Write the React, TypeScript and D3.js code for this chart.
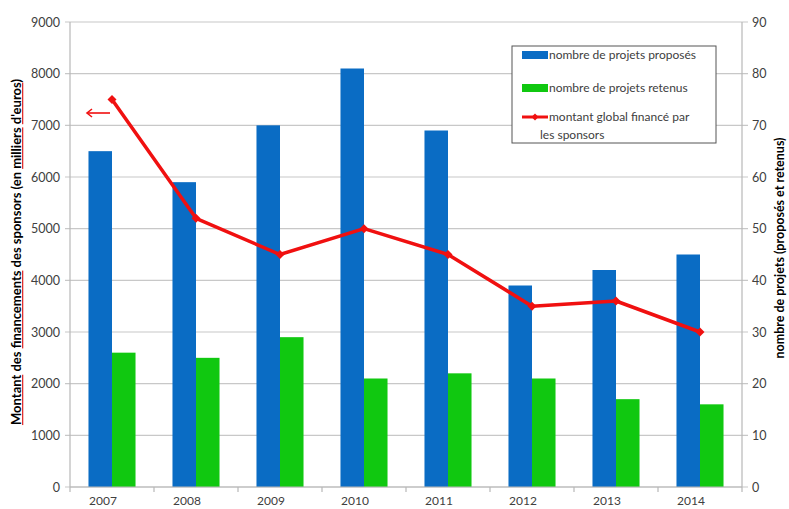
import React from "react";
import * as d3 from "d3";

const years = ["2007", "2008", "2009", "2010", "2011", "2012", "2013", "2014"];
const proposes = [65, 59, 70, 81, 69, 39, 42, 45];
const retenus = [26, 25, 29, 21, 22, 21, 17, 16];
const montant = [7500, 5200, 4500, 5000, 4500, 3500, 3600, 3000];
const leftTicks = [0, 1000, 2000, 3000, 4000, 5000, 6000, 7000, 8000, 9000];
const rightTicks = [0, 10, 20, 30, 40, 50, 60, 70, 80, 90];

const W = 789, H = 509;
const M = { left: 70, right: 742, top: 22, bottom: 487 };
const BLUE = "#0a6cc4";
const GREEN = "#10c810";
const RED = "#f01010";
const FONT = "Lato, 'Open Sans', sans-serif";

function Sq({ children }: { children: React.ReactNode }) {
  return (
    <tspan fill="#e03030" style={{ textDecoration: "underline" }}>
      <tspan fill="transparent">{children}</tspan>
    </tspan>
  );
}

export default function App() {
  const x = d3.scaleBand().domain(years).range([M.left, M.right]);
  const yL = d3.scaleLinear().domain([0, 9000]).range([M.bottom, M.top]);
  const yR = d3.scaleLinear().domain([0, 90]).range([M.bottom, M.top]);
  const bw = x.bandwidth() * 0.28;
  const line = d3
    .line<number>()
    .x((_, i) => (x(years[i]) as number) + x.bandwidth() / 2)
    .y((d) => yL(d));

  const titleProps = {
    transform: `translate(21,252) rotate(-90)`,
    textAnchor: "middle" as const,
    fontSize: 13,
    fontWeight: "bold",
  };

  return (
    <svg width={W} height={H} style={{ position: "absolute", left: 0, top: 0, background: "#fff" }} fontFamily={FONT}>
      {leftTicks.map((t) => (
        <g key={"gl" + t}>
          <line x1={M.left - 5} x2={M.right + 6} y1={yL(t)} y2={yL(t)} stroke="#c8c8c8" strokeWidth={1.2} />
          <text x={60} y={yL(t) + 4.5} textAnchor="end" fontSize={12.5} fill="#404040">{t}</text>
        </g>
      ))}
      {rightTicks.map((t) => (
        <text key={"r" + t} x={752} y={yR(t) + 4.5} textAnchor="start" fontSize={12.5} fill="#404040">{t}</text>
      ))}
      <line x1={M.left} x2={M.left} y1={M.top} y2={M.bottom} stroke="#b8b8b8" strokeWidth={1.2} />
      <line x1={M.right} x2={M.right} y1={M.top} y2={M.bottom} stroke="#b8b8b8" strokeWidth={1.2} />
      {years.map((y, i) => {
        const x0 = x(y) as number;
        const c = x0 + x.bandwidth() / 2;
        return (
          <g key={y}>
            <rect x={c - bw} y={yR(proposes[i])} width={bw} height={M.bottom - yR(proposes[i])} fill={BLUE} />
            <rect x={c} y={yR(retenus[i])} width={bw} height={M.bottom - yR(retenus[i])} fill={GREEN} />
            <text x={c - 9} y={505} textAnchor="middle" fontSize={12} fill="#404040">{y}</text>
          </g>
        );
      })}
      {d3.range(years.length + 1).map((i) => {
        const xx = M.left + i * x.bandwidth();
        return <line key={"xt" + i} x1={xx} x2={xx} y1={M.bottom} y2={M.bottom + 5} stroke="#b8b8b8" strokeWidth={1.2} />;
      })}
      <line x1={M.left} x2={M.right} y1={M.bottom} y2={M.bottom} stroke="#b8b8b8" strokeWidth={1.2} />
      <path d={line(montant) as string} fill="none" stroke={RED} strokeWidth={3.5} strokeLinejoin="round" />
      {montant.map((v, i) => {
        const cx = (x(years[i]) as number) + x.bandwidth() / 2;
        const cy = yL(v);
        return <path key={"m" + i} d={`M${cx},${cy - 4.5}L${cx + 4.5},${cy}L${cx},${cy + 4.5}L${cx - 4.5},${cy}Z`} fill={RED} />;
      })}
      {/* arrow */}
      <line x1={110} x2={88} y1={113} y2={113} stroke={RED} strokeWidth={1.6} />
      <path d="M92,109 L87,113 L92,117" fill="none" stroke={RED} strokeWidth={1.6} />
      {/* legend */}
      <rect x={512} y={46} width={204} height={97} fill="#fff" stroke="#555" strokeWidth={1} />
      <rect x={522} y={51} width={26} height={8} fill={BLUE} />
      <text x={549} y={59} fontSize={12} fill="#404040">nombre de projets proposés</text>
      <rect x={522} y={84} width={26} height={8} fill={GREEN} />
      <text x={549} y={92} fontSize={12} fill="#404040">nombre de projets retenus</text>
      <line x1={522} x2={548} y1={117} y2={117} stroke={RED} strokeWidth={3} />
      <path d="M535,113.5 L538.5,117 L535,120.5 L531.5,117 Z" fill={RED} />
      <text x={549} y={121} fontSize={12} fill="#404040">montant global financé par</text>
      <text x={540} y={139} fontSize={12} fill="#404040">les sponsors</text>
      {/* axis titles */}
      <text {...titleProps} fill="#000">
        Montant des financements des sponsors (en milliers d'euros)
      </text>
      <text {...titleProps} fill="transparent">
        <Sq>Montant</Sq> des <Sq>financements</Sq> des sponsors (en <Sq>milliers</Sq> <Sq>d'euros</Sq>)
      </text>
      <text transform={`translate(784,248) rotate(-90)`} textAnchor="middle" fontSize={12.5} fontWeight="bold" fill="#000">
        nombre de projets (proposés et retenus)
      </text>
    </svg>
  );
}
